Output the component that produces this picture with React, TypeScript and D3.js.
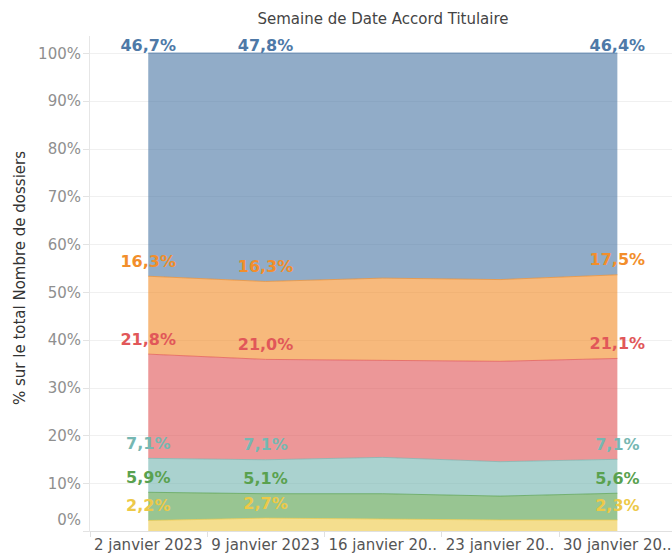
import React from "react";
import * as d3 from "d3";

const weeks = ["2 janvier 2023", "9 janvier 2023", "16 janvier 20..", "23 janvier 20..", "30 janvier 20.."];
const seriesKeys = ["s1", "s2", "s3", "s4", "s5", "s6"];
const yellowVals = [2.2, 2.7, 2.5, 2.3, 2.3];
const greenVals = [5.9, 5.1, 5.3, 5.0, 5.6];
const tealVals = [7.1, 7.1, 7.6, 7.2, 7.1];
const redVals = [21.8, 21.0, 20.3, 21.0, 21.1];
const orangeVals = [16.3, 16.3, 17.2, 17.1, 17.5];
const blueVals = [46.7, 47.8, 47.1, 47.4, 46.4];
const seriesColors = ["#EDC948", "#59A14F", "#76B7B2", "#E15759", "#F28E2B", "#4E79A7"];
const labelWeekIdx = [0, 1, 4];
const yTicks = [0, 0.1, 0.2, 0.3, 0.4, 0.5, 0.6, 0.7, 0.8, 0.9, 1.0];
const titleText = "Semaine de Date Accord Titulaire";
const yTitle = "% sur le total Nombre de dossiers";

const W = 672;
const H = 555;
const FONT = "'DejaVu Sans', sans-serif";

export default function App() {
  const allVals = [yellowVals, greenVals, tealVals, redVals, orangeVals, blueVals];
  const rows = weeks.map((w, i) => {
    const r: any = { week: w };
    seriesKeys.forEach((k, j) => (r[k] = allVals[j][i] / 100));
    return r;
  });
  const stacked = d3.stack<any>().keys(seriesKeys)(rows);

  const band = d3.scaleBand<string>().domain(weeks).range([89.6, 676]).padding(0);
  const x = (w: string) => (band(w) as number) + band.bandwidth() / 2;
  const y = d3.scaleLinear().domain([0, 1]).range([531, 53]);

  const area = d3
    .area<any>()
    .x((d) => x(d.data.week))
    .y0((d) => y(d[0]))
    .y1((d) => y(d[1]))
    .curve(d3.curveLinear);
  const topLine = d3
    .line<any>()
    .x((d) => x(d.data.week))
    .y((d) => y(d[1]))
    .curve(d3.curveLinear);

  const fmt = (v: number) => d3.format(".1f")(v).replace(".", ",") + "%";
  const paneLeft = 89.5;

  return (
    <div style={{ position: "fixed", left: 0, top: 0, width: W, height: H, background: "#fff" }}>
      <svg width={W} height={H} style={{ display: "block" }} fontFamily={FONT}>
        <rect width={W} height={H} fill="#fff" />
        {/* title */}
        <text x={383} y={24} textAnchor="middle" fontSize={15} fill="#444">
          {titleText}
        </text>
        {/* y title */}
        <text
          transform={`translate(25, ${278}) rotate(-90)`}
          textAnchor="middle"
          fontSize={15}
          fill="#333"
        >
          {yTitle}
        </text>
        {/* gridlines & y ticks */}
        {yTicks.map((t) => (
          <g key={t}>
            <line x1={paneLeft} x2={W} y1={Math.round(y(t)) + 0.5} y2={Math.round(y(t)) + 0.5} stroke="#f0f0f0" />
            <line x1={83} x2={paneLeft} y1={Math.round(y(t)) + 0.5} y2={Math.round(y(t)) + 0.5} stroke="#e3e3e3" />
            <text
              x={81}
              y={Math.min(y(t) + 5.5, 525)}
              textAnchor="end"
              fontSize={15}
              fill="#8f8f8f"
            >
              {d3.format(".0%")(t)}
            </text>
          </g>
        ))}
        {/* axis lines */}
        <line x1={paneLeft} x2={paneLeft} y1={36} y2={531} stroke="#e6e6e6" />
        <line x1={paneLeft} x2={W} y1={531.5} y2={531.5} stroke="#e0e0e0" />
        {weeks.map((w) => (
          <line
            key={"t" + w}
            x1={Math.round(band(w) as number) + 0.5}
            x2={Math.round(band(w) as number) + 0.5}
            y1={531}
            y2={537}
            stroke="#e0e0e0"
          />
        ))}
        {/* x labels */}
        {weeks.map((w) => (
          <text key={"l" + w} x={x(w)} y={550} textAnchor="middle" fontSize={15} fill="#555">
            {w}
          </text>
        ))}
        {/* areas */}
        {stacked.map((s, i) => (
          <path key={"a" + s.key} d={area(s) as string} fill={seriesColors[i]} fillOpacity={0.62} />
        ))}
        {stacked.map((s, i) => (
          <path
            key={"ln" + s.key}
            d={topLine(s) as string}
            fill="none"
            stroke={seriesColors[i]}
            strokeWidth={1}
            strokeOpacity={0.7}
          />
        ))}
        {/* labels */}
        {stacked.map((s, i) =>
          labelWeekIdx.map((wi) => {
            const d = s[wi];
            const yy = Math.max(y(d[1]) - 9.5, 50.5);
            return (
              <text
                key={"lab" + s.key + wi}
                x={x(d.data.week)}
                y={yy}
                textAnchor="middle"
                fontSize={16}
                fontWeight="bold"
                fill={seriesColors[i]}
              >
                {fmt(allVals[i][wi])}
              </text>
            );
          })
        )}
      </svg>
    </div>
  );
}
